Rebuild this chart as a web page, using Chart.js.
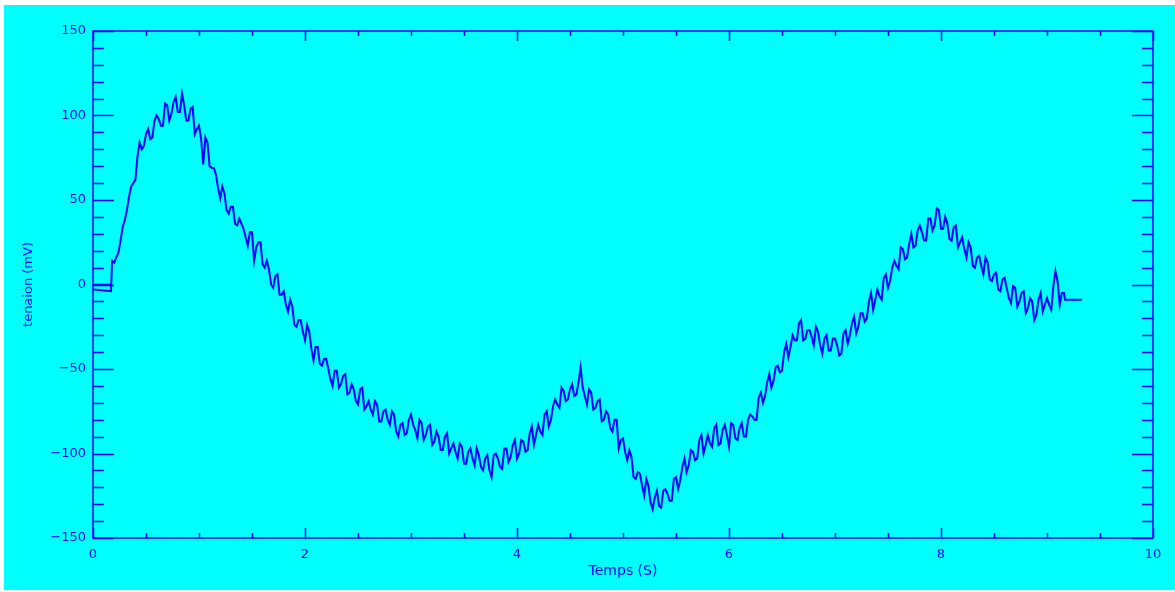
<!DOCTYPE html>
<html>
<head>
<meta charset="utf-8">
<script src="https://cdn.jsdelivr.net/npm/chart.js@4/dist/chart.umd.min.js"></script>
<style>
  html, body { margin: 0; padding: 0; background: #ffffff; }
  #wrap { width: 1175px; height: 592px; }
</style>
</head>
<body>
<div id="wrap"><canvas id="mesure" width="1175" height="592"></canvas></div>
<script>
// valeurs (un point toutes les 0.02 s environ)
const temps = [
  0, 0.17, 0.18,
  0.20, 0.22, 0.24, 0.26, 0.28, 0.30, 0.32, 0.34, 0.36, 0.38,
  0.40, 0.42, 0.44, 0.46, 0.48, 0.50, 0.52, 0.54, 0.56, 0.58,
  0.60, 0.62, 0.64, 0.66, 0.68, 0.70, 0.72, 0.74, 0.76, 0.78,
  0.80, 0.82, 0.84, 0.86, 0.88, 0.90, 0.92, 0.94, 0.96, 0.98,
  1.00, 1.02, 1.04, 1.06, 1.08, 1.10, 1.12, 1.14, 1.16, 1.18,
  1.20, 1.22, 1.24, 1.26, 1.28, 1.30, 1.32, 1.34, 1.36, 1.38,
  1.40, 1.42, 1.44, 1.46, 1.48, 1.50, 1.52, 1.54, 1.56, 1.58,
  1.60, 1.62, 1.64, 1.66, 1.68, 1.70, 1.72, 1.74, 1.76, 1.78,
  1.80, 1.82, 1.84, 1.86, 1.88, 1.90, 1.92, 1.94, 1.96, 1.98,
  2.00, 2.02, 2.04, 2.06, 2.08, 2.10, 2.12, 2.14, 2.16, 2.18,
  2.20, 2.22, 2.24, 2.26, 2.28, 2.30, 2.32, 2.34, 2.36, 2.38,
  2.40, 2.42, 2.44, 2.46, 2.48, 2.50, 2.52, 2.54, 2.56, 2.58,
  2.60, 2.62, 2.64, 2.66, 2.68, 2.70, 2.72, 2.74, 2.76, 2.78,
  2.80, 2.82, 2.84, 2.86, 2.88, 2.90, 2.92, 2.94, 2.96, 2.98,
  3.00, 3.02, 3.04, 3.06, 3.08, 3.10, 3.12, 3.14, 3.16, 3.18,
  3.20, 3.22, 3.24, 3.26, 3.28, 3.30, 3.32, 3.34, 3.36, 3.38,
  3.40, 3.42, 3.44, 3.46, 3.48, 3.50, 3.52, 3.54, 3.56, 3.58,
  3.60, 3.62, 3.64, 3.66, 3.68, 3.70, 3.72, 3.74, 3.76, 3.78,
  3.80, 3.82, 3.84, 3.86, 3.88, 3.90, 3.92, 3.94, 3.96, 3.98,
  4.00, 4.02, 4.04, 4.06, 4.08, 4.10, 4.12, 4.14, 4.16, 4.18,
  4.20, 4.22, 4.24, 4.26, 4.28, 4.30, 4.32, 4.34, 4.36, 4.38,
  4.40, 4.42, 4.44, 4.46, 4.48, 4.50, 4.52, 4.54, 4.56, 4.58,
  4.60, 4.62, 4.64, 4.66, 4.68, 4.70, 4.72, 4.74, 4.76, 4.78,
  4.80, 4.82, 4.84, 4.86, 4.88, 4.90, 4.92, 4.94, 4.96, 4.98,
  5.00, 5.02, 5.04, 5.06, 5.08, 5.10, 5.12, 5.14, 5.16, 5.18,
  5.20, 5.22, 5.24, 5.26, 5.28, 5.30, 5.32, 5.34, 5.36, 5.38,
  5.40, 5.42, 5.44, 5.46, 5.48, 5.50, 5.52, 5.54, 5.56, 5.58,
  5.60, 5.62, 5.64, 5.66, 5.68, 5.70, 5.72, 5.74, 5.76, 5.78,
  5.80, 5.82, 5.84, 5.86, 5.88, 5.90, 5.92, 5.94, 5.96, 5.98,
  6.00, 6.02, 6.04, 6.06, 6.08, 6.10, 6.12, 6.14, 6.16, 6.18,
  6.20, 6.22, 6.24, 6.26, 6.28, 6.30, 6.32, 6.34, 6.36, 6.38,
  6.40, 6.42, 6.44, 6.46, 6.48, 6.50, 6.52, 6.54, 6.56, 6.58,
  6.60, 6.62, 6.64, 6.66, 6.68, 6.70, 6.72, 6.74, 6.76, 6.78,
  6.80, 6.82, 6.84, 6.86, 6.88, 6.90, 6.92, 6.94, 6.96, 6.98,
  7.00, 7.02, 7.04, 7.06, 7.08, 7.10, 7.12, 7.14, 7.16, 7.18,
  7.20, 7.22, 7.24, 7.26, 7.28, 7.30, 7.32, 7.34, 7.36, 7.38,
  7.40, 7.42, 7.44, 7.46, 7.48, 7.50, 7.52, 7.54, 7.56, 7.58,
  7.60, 7.62, 7.64, 7.66, 7.68, 7.70, 7.72, 7.74, 7.76, 7.78,
  7.80, 7.82, 7.84, 7.86, 7.88, 7.90, 7.92, 7.94, 7.96, 7.98,
  8.00, 8.02, 8.04, 8.06, 8.08, 8.10, 8.12, 8.14, 8.16, 8.18,
  8.20, 8.22, 8.24, 8.26, 8.28, 8.30, 8.32, 8.34, 8.36, 8.38,
  8.40, 8.42, 8.44, 8.46, 8.48, 8.50, 8.52, 8.54, 8.56, 8.58,
  8.60, 8.62, 8.64, 8.66, 8.68, 8.70, 8.72, 8.74, 8.76, 8.78,
  8.80, 8.82, 8.84, 8.86, 8.88, 8.90, 8.92, 8.94, 8.96, 8.98,
  9.00, 9.02, 9.04, 9.06, 9.08, 9.10, 9.12, 9.14, 9.16,
  9.17, 9.33
];

const tension = [
  -3, -4, 14,
  13, 16, 19, 26, 34, 38, 44, 52, 58, 60,
  62, 76, 84, 80, 82, 89, 92, 86, 87, 97,
  100, 98, 94, 94, 107, 106, 97, 101, 108, 111,
  102, 102, 113, 106, 97, 97, 104, 105, 89, 92,
  94, 86, 71, 87, 84, 70, 69, 69, 65, 57,
  51, 58, 54, 44, 42, 46, 46, 36, 35, 39,
  36, 33, 28, 23, 31, 31, 14, 22, 25, 25,
  12, 10, 14, 9, 0, -2, 5, 6, -6, -6,
  -4, -12, -16, -9, -13, -24, -25, -21, -21, -28,
  -33, -24, -28, -38, -45, -37, -37, -47, -48, -44,
  -44, -50, -56, -60, -51, -51, -61, -59, -54, -53,
  -65, -64, -59, -62, -69, -71, -62, -61, -74, -72,
  -69, -74, -77, -69, -71, -81, -81, -75, -74, -80,
  -83, -75, -77, -87, -90, -83, -82, -89, -88, -80,
  -77, -83, -86, -91, -80, -82, -92, -89, -84, -83,
  -95, -93, -87, -90, -98, -98, -90, -88, -100, -97,
  -94, -99, -103, -94, -96, -106, -106, -99, -97, -103,
  -107, -97, -101, -108, -110, -103, -101, -110, -114, -101,
  -100, -103, -108, -109, -97, -97, -105, -102, -95, -92,
  -103, -100, -92, -93, -99, -98, -88, -84, -95, -89,
  -83, -87, -89, -77, -75, -84, -80, -72, -68, -71,
  -73, -61, -63, -69, -68, -62, -59, -66, -65, -58,
  -49, -61, -66, -71, -62, -64, -74, -73, -69, -68,
  -81, -80, -75, -77, -85, -87, -80, -80, -97, -92,
  -91, -99, -104, -98, -102, -114, -115, -111, -112, -119,
  -125, -115, -119, -129, -133, -126, -122, -131, -132, -122,
  -121, -124, -128, -128, -115, -114, -121, -116, -108, -103,
  -111, -107, -98, -99, -104, -103, -92, -89, -100, -95,
  -89, -94, -96, -85, -83, -95, -94, -86, -83, -89,
  -96, -82, -83, -91, -92, -85, -82, -90, -90, -80,
  -77, -78, -80, -80, -67, -64, -70, -66, -58, -53,
  -61, -57, -49, -48, -52, -51, -40, -35, -43, -37,
  -30, -33, -33, -23, -21, -33, -32, -27, -27, -31,
  -36, -25, -28, -36, -41, -32, -30, -39, -39, -32,
  -32, -36, -42, -41, -29, -27, -35, -30, -23, -19,
  -29, -25, -17, -17, -22, -20, -10, -5, -15, -9,
  -3, -7, -9, 4, 6, -2, 2, 10, 14, 11,
  9, 22, 21, 15, 16, 24, 30, 22, 23, 32,
  35, 31, 26, 26, 39, 39, 32, 35, 45, 44,
  33, 33, 40, 36, 27, 26, 34, 35, 22, 25,
  28, 21, 16, 25, 22, 11, 10, 16, 17, 11,
  6, 16, 13, 3, 2, 6, 7, -3, -4, 3,
  4, -2, -8, -11, -1, -2, -13, -10, -5, -4,
  -17, -14, -8, -10, -21, -18, -9, -5, -16, -12,
  -8, -12, -15, -1, 8, 2, -12, -5, -5,
  -9, -9
];

// petit trait de départ à zéro
const tempsDepart = [0, 0.17];
const tensionDepart = [0, 0];

// graduations
const xMajeures = [0, 2, 4, 6, 8, 10];
const xMineures = [0.5, 1, 1.5, 2.5, 3, 3.5, 4.5, 5, 5.5, 6.5, 7, 7.5, 8.5, 9, 9.5];
const yMajeures = [-150, -100, -50, 0, 50, 100, 150];
const yMineures = [-140, -130, -120, -110, -90, -80, -70, -60, -40, -30, -20, -10,
  10, 20, 30, 40, 60, 70, 80, 90, 110, 120, 130, 140];

const BLEU = '#0000ff';
const CYAN = '#00ffff';
const police = 'DejaVu Sans, Liberation Sans, sans-serif';

function toPoints(xs, ys) {
  return xs.map((x, i) => ({ x: x, y: ys[i] }));
}

// fond cyan + cadre avec graduations vers l'intérieur
const cadre = {
  id: 'cadre',
  beforeDraw(chart) {
    const ctx = chart.ctx;
    ctx.save();
    ctx.fillStyle = '#ffffff';
    ctx.fillRect(0, 0, chart.width, chart.height);
    ctx.fillStyle = CYAN;
    ctx.fillRect(4, 5, chart.width - 4, chart.height - 7);
    ctx.restore();
  },
  afterDraw(chart) {
    const ctx = chart.ctx;
    const a = chart.chartArea;
    const sx = chart.scales.x;
    const sy = chart.scales.y;
    ctx.save();
    ctx.strokeStyle = BLEU;
    ctx.lineWidth = 1.5;
    ctx.strokeRect(a.left, a.top, a.right - a.left, a.bottom - a.top);
    ctx.beginPath();
    const tx = (vals, len) => {
      vals.forEach((v) => {
        const px = Math.round(sx.getPixelForValue(v)) + 0.5;
        ctx.moveTo(px, a.bottom); ctx.lineTo(px, a.bottom - len);
        ctx.moveTo(px, a.top); ctx.lineTo(px, a.top + len);
      });
    };
    const ty = (vals, len) => {
      vals.forEach((v) => {
        const py = Math.round(sy.getPixelForValue(v)) + 0.5;
        ctx.moveTo(a.left, py); ctx.lineTo(a.left + len, py);
        ctx.moveTo(a.right, py); ctx.lineTo(a.right - len, py);
      });
    };
    tx(xMajeures, 10);
    tx(xMineures, 5);
    ty(yMajeures, 21);
    ty(yMineures, 11);
    ctx.stroke();
    ctx.restore();
  }
};

new Chart(document.getElementById('mesure'), {
  type: 'scatter',
  data: {
    datasets: [
      {
        label: 'tension',
        data: toPoints(temps, tension),
        showLine: true,
        borderColor: BLEU,
        borderWidth: 2,
        pointRadius: 0,
        tension: 0,
      },
      {
        label: 'depart',
        data: toPoints(tempsDepart, tensionDepart),
        showLine: true,
        borderColor: BLEU,
        borderWidth: 1.5,
        pointRadius: 0,
      },
    ],
  },
  options: {
    responsive: false,
    animation: false,
    layout: { padding: { left: 0, right: 22, top: 31, bottom: 0 } },
    plugins: {
      legend: { display: false },
      tooltip: { enabled: false },
    },
    scales: {
      x: {
        type: 'linear',
        min: 0,
        max: 10,
        afterFit: (scale) => { scale.height = 54; },
        grid: { display: false, drawTicks: false },
        border: { display: false },
        ticks: {
          stepSize: 2,
          padding: 9,
          color: BLEU,
          maxRotation: 0,
          font: { family: police, size: 13 },
        },
        title: {
          display: true,
          text: 'Temps (S)',
          color: BLEU,
          font: { family: police, size: 14 },
          padding: { top: 0, bottom: 12 },
        },
      },
      y: {
        type: 'linear',
        min: -150,
        max: 150,
        afterFit: (scale) => { scale.width = 93; },
        grid: { display: false, drawTicks: false },
        border: { display: false },
        ticks: {
          stepSize: 50,
          padding: 7,
          color: BLEU,
          font: { family: police, size: 13 },
          callback: (v) => String(v).replace('-', '\u2212'),
        },
        title: {
          display: true,
          text: 'tenaion (mV)',
          color: BLEU,
          font: { family: police, size: 13 },
          padding: { top: 21, bottom: 0 },
        },
      },
    },
  },
  plugins: [cadre],
});
</script>
</body>
</html>
